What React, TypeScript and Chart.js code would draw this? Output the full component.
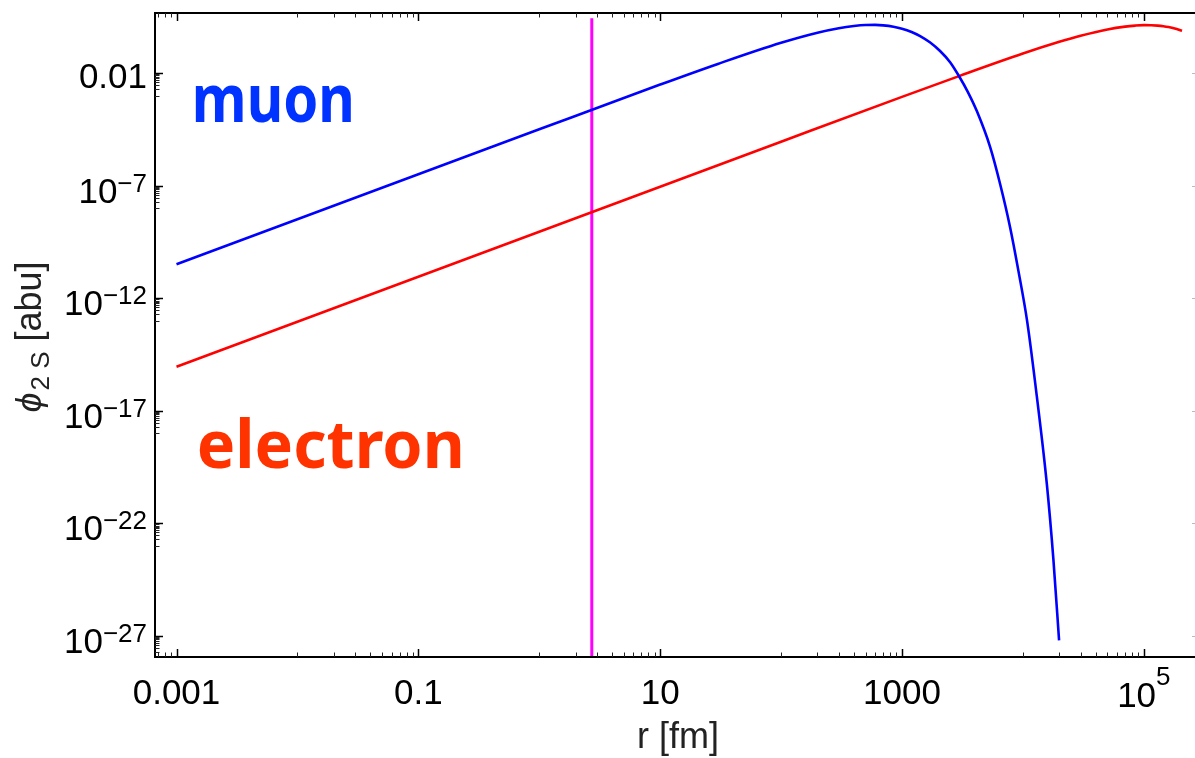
import React, { useEffect, useRef } from "react";
import { Chart, registerables } from "chart.js";

Chart.register(...registerables);

// ---- data (r in fm, phi in arbitrary units) ----
const muonR = [
  0.001, 0.01, 0.1, 1, 10, 30, 100, 200, 300, 400, 500, 600, 700, 850, 1000,
  1200, 1413, 1700, 2065, 2500, 2965, 3500, 4159, 5360, 6486, 7840, 9180,
  10830, 13030, 15770, 17870, 19910,
];
const muonPhi = [
  3.24e-11, 3.24e-9, 3.24e-7, 3.24e-5, 3.16e-3, 0.0262, 0.228, 0.641, 1.015,
  1.27, 1.4, 1.416, 1.355, 1.18, 0.966, 0.689, 0.452, 0.239, 0.0977, 0.0311,
  7.41e-3, 1.51e-3, 2.09e-4, 5.25e-6, 1.17e-7, 1.41e-9, 1.66e-11, 1.0e-13,
  4.47e-17, 5.62e-21, 2.51e-24, 6.31e-28,
];
const electronR = [
  0.001, 1, 100, 1000, 3000, 10000, 20000, 30000, 50000, 70000, 85000, 100000,
  115000, 130000, 145000, 160000, 180000, 207000,
];
const electronPhi = [
  9.1e-16, 9.1e-10, 9.1e-6, 8.95e-4, 7.7e-3, 0.0755, 0.25, 0.466, 0.887, 1.19,
  1.32, 1.38, 1.374, 1.32, 1.24, 1.14, 0.989, 0.78,
];
const radiusR = [2.72, 2.72];
const radiusPhi = [2.8, 1e-28];

const xRange = [6.64e-4, 2.65e5];
const yRange = [1.15e-28, 4.79];

const xMajorTicks = [1e-3, 1e-1, 1e1, 1e3, 1e5];
const xTickBase = ["0.001", "0.1", "10", "1000", "10"];
const xTickSup = ["", "", "", "", "5"];
const yMajorTicks = [1e-2, 1e-7, 1e-12, 1e-17, 1e-22, 1e-27];
const yTickBase = ["0.01", "10", "10", "10", "10", "10"];
const yTickSup = ["", "\u22127", "\u221212", "\u221217", "\u221222", "\u221227"];

const xTitle = "r [fm]";
const yTitleSymbol = "\u03D5";
const yTitleSub = "2 S";
const yTitleUnit = " [abu]";
const seriesNames = ["muon", "electron"];

const SANS = '"Liberation Sans", Arial, Helvetica, sans-serif';
const LABEL_FONT = '"Noto Sans", "Open Sans", sans-serif';

function seg(ctx: CanvasRenderingContext2D, x1: number, y1: number, x2: number, y2: number, w: number, c: string) {
  ctx.beginPath();
  ctx.lineWidth = w;
  ctx.strokeStyle = c;
  ctx.moveTo(x1, y1);
  ctx.lineTo(x2, y2);
  ctx.stroke();
}

const framePlugin = {
  id: "mmaFrame",
  afterDatasetsDraw(chart: any) {
    const { ctx, chartArea, scales } = chart;
    const { left, top, right, bottom } = chartArea;
    const xs = scales.x;
    const ys = scales.y;
    ctx.save();

    // frame (right side lies at the image edge)
    ctx.lineWidth = 2;
    ctx.strokeStyle = "#000";
    ctx.beginPath();
    ctx.moveTo(right + 4, top);
    ctx.lineTo(left, top);
    ctx.lineTo(left, bottom);
    ctx.lineTo(right + 4, bottom);
    ctx.stroke();

    // x ticks (bottom and top, inward)
    xMajorTicks.forEach((m) => {
      const px = Math.round(xs.getPixelForValue(m)) + 0.5;
      if (px >= left && px <= right) {
        seg(ctx, px, bottom, px, bottom - 8, 1.5, "#000");
        seg(ctx, px, top, px, top + 8, 1.5, "#000");
      }
      for (let k = 1; k <= 9; k++) {
        const v = (k * m) / 10;
        const p = Math.round(xs.getPixelForValue(v)) + 0.5;
        if (p < left + 2 || p > right) continue;
        seg(ctx, p, bottom, p, bottom - 4.5, 1, "#222");
        seg(ctx, p, top, p, top + 4.5, 1, "#222");
      }
    });

    // y ticks (left strong, right faint at edge)
    yMajorTicks.forEach((m) => {
      const py = Math.round(ys.getPixelForValue(m)) + 0.5;
      if (py >= top && py <= bottom) {
        seg(ctx, left, py, left + 8, py, 1.5, "#000");
        seg(ctx, right, py, right - 3, py, 1, "#bbb");
      }
      for (let k = 1; k <= 9; k++) {
        const v = (k * m) / 10;
        const p = Math.round(ys.getPixelForValue(v)) + 0.5;
        if (p < top || p > bottom - 2) continue;
        seg(ctx, left, p, left + 4.5, p, 1, "#222");
      }
    });

    // x tick labels
    ctx.fillStyle = "#000";
    ctx.textBaseline = "alphabetic";
    xMajorTicks.forEach((m, i) => {
      const px = xs.getPixelForValue(m);
      const base = xTickBase[i];
      const sup = xTickSup[i];
      ctx.font = `35px ${SANS}`;
      const wb = ctx.measureText(base).width;
      ctx.font = `26px ${SANS}`;
      const ws = sup ? ctx.measureText(sup).width : 0;
      const x0 = px - (wb + ws) / 2;
      ctx.textAlign = "left";
      ctx.font = `35px ${SANS}`;
      ctx.fillText(base, x0, sup ? 707 : 704);
      if (sup) {
        ctx.font = `26px ${SANS}`;
        ctx.fillText(sup, x0 + wb, 685);
      }
    });

    // y tick labels (right aligned)
    const labelRight = left - 8;
    yMajorTicks.forEach((m, i) => {
      const py = ys.getPixelForValue(m);
      const base = yTickBase[i];
      const sup = yTickSup[i];
      ctx.textAlign = "right";
      if (!sup) {
        ctx.font = `35px ${SANS}`;
        ctx.fillText(base, labelRight, py + 15);
      } else {
        ctx.font = `26px ${SANS}`;
        const ws = ctx.measureText(sup).width;
        ctx.fillText(sup, labelRight, py + 6);
        ctx.font = `35px ${SANS}`;
        ctx.fillText(base, labelRight - ws, py + 17);
      }
    });

    // x axis title
    ctx.textAlign = "center";
    ctx.font = `36px ${SANS}`;
    ctx.fillStyle = "#222";
    ctx.fillText(xTitle, (left + right) / 2 + 3, 748);

    // y axis title (rotated)
    ctx.save();
    ctx.translate(41, (top + bottom) / 2 + 2);
    ctx.rotate(-Math.PI / 2);
    ctx.textAlign = "left";
    const f1 = `italic 36px ${SANS}`;
    const f2 = `26px ${SANS}`;
    const f3 = `36px ${SANS}`;
    ctx.font = f1;
    const w1 = ctx.measureText(yTitleSymbol).width;
    ctx.font = f2;
    const w2 = ctx.measureText(yTitleSub).width;
    ctx.font = f3;
    const w3 = ctx.measureText(yTitleUnit).width;
    let cx = -(w1 + 2 + w2 + w3) / 2;
    ctx.font = f1;
    ctx.fillText(yTitleSymbol, cx, 0);
    cx += w1 + 2;
    ctx.font = f2;
    ctx.fillText(yTitleSub, cx, 8);
    cx += w2;
    ctx.font = f3;
    ctx.fillText(yTitleUnit, cx, 0);
    ctx.restore();

    // series annotations
    const drawLabel = (text: string, color: string, xv: number, yv: number, targetW: number) => {
      const px = xs.getPixelForValue(xv);
      const py = ys.getPixelForValue(yv);
      ctx.save();
      ctx.font = `bold 66px ${LABEL_FONT}`;
      const w = ctx.measureText(text).width;
      ctx.translate(px, py);
      ctx.scale(targetW / w, 1);
      ctx.textAlign = "left";
      ctx.fillStyle = color;
      ctx.fillText(text, 0, 0);
      ctx.restore();
    };
    drawLabel(seriesNames[0], "#0033ff", 1.34e-3, 7e-5, 163);
    drawLabel(seriesNames[1], "#ff3300", 1.47e-3, 2.8e-20, 268);

    ctx.restore();
  },
};

export default function App() {
  const canvasRef = useRef<HTMLCanvasElement | null>(null);

  useEffect(() => {
    const canvas = canvasRef.current;
    if (!canvas) return;
    const toPts = (xsArr: number[], ysArr: number[]) => xsArr.map((x, i) => ({ x, y: ysArr[i] }));
    const chart = new Chart(canvas, {
      type: "line",
      data: {
        datasets: [
          {
            label: "muon",
            data: toPts(muonR, muonPhi),
            borderColor: "#0000ff",
            borderWidth: 2.6,
            pointRadius: 0,
            cubicInterpolationMode: "monotone",
          },
          {
            label: "electron",
            data: toPts(electronR, electronPhi),
            borderColor: "#ff0000",
            borderWidth: 2.6,
            pointRadius: 0,
            cubicInterpolationMode: "monotone",
          },
          {
            label: "radius",
            data: toPts(radiusR, radiusPhi),
            borderColor: "#ff00ff",
            borderWidth: 3,
            pointRadius: 0,
          },
        ],
      },
      options: {
        animation: false,
        responsive: false,
        devicePixelRatio: 1,
        layout: { padding: { left: 155, top: 13, right: 0, bottom: 101 } },
        plugins: { legend: { display: false }, tooltip: { enabled: false } },
        scales: {
          x: { type: "logarithmic", min: xRange[0], max: xRange[1], display: false },
          y: { type: "logarithmic", min: yRange[0], max: yRange[1], display: false },
        },
      },
      plugins: [framePlugin],
    } as any);
    return () => chart.destroy();
  }, []);

  return (
    <div style={{ position: "absolute", left: 0, top: 0, width: 1195, height: 758, background: "#fff" }}>
      <canvas ref={canvasRef} width={1195} height={758} style={{ display: "block" }} />
    </div>
  );
}
